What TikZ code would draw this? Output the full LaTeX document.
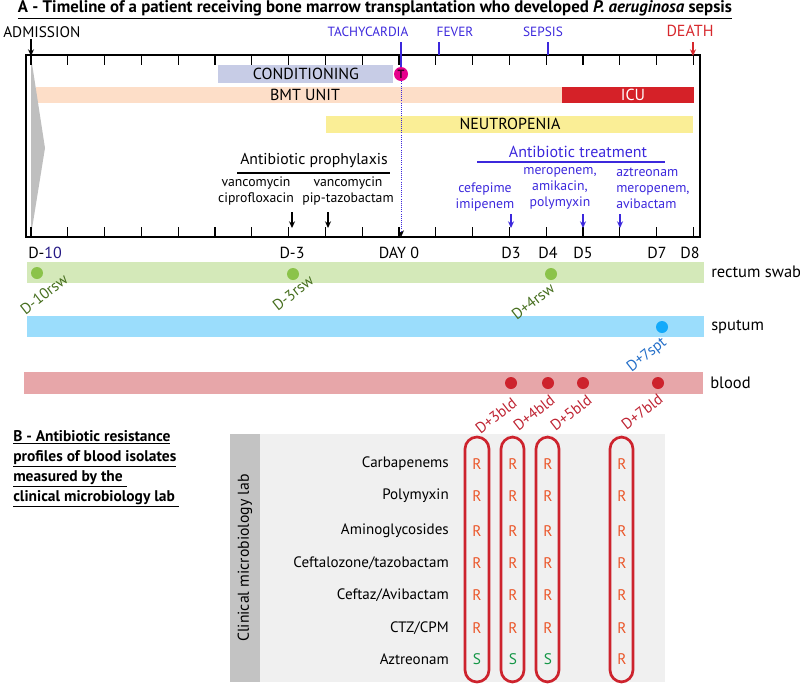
\documentclass[tikz,border=0pt]{standalone}
\usepackage{fontspec}
\setmainfont{PT Sans}
\usetikzlibrary{arrows.meta}
\definecolor{evblue}{RGB}{60,40,220}
\definecolor{deathred}{RGB}{215,40,45}
\definecolor{condcol}{RGB}{199,204,230}
\definecolor{bmtcol}{RGB}{253,222,200}
\definecolor{icucol}{RGB}{213,33,40}
\definecolor{neutcol}{RGB}{250,238,150}
\definecolor{tachcol}{RGB}{230,0,140}
\definecolor{rswband}{RGB}{212,233,185}
\definecolor{sptband}{RGB}{155,221,252}
\definecolor{bldband}{RGB}{231,166,169}
\definecolor{rswdot}{RGB}{139,195,74}
\definecolor{rswtext}{RGB}{70,110,30}
\definecolor{sptdot}{RGB}{20,170,250}
\definecolor{spttext}{RGB}{35,110,200}
\definecolor{blddot}{RGB}{205,35,45}
\definecolor{bldtext}{RGB}{190,35,50}
\definecolor{rescol}{RGB}{235,85,40}
\definecolor{suscol}{RGB}{20,150,70}
\definecolor{panelcol}{RGB}{240,240,240}
\definecolor{stripcol}{RGB}{195,195,195}

\begin{document}
\begin{tikzpicture}[x=0.75pt, y=-0.75pt,
    txt/.style={font=\fontsize{12}{14}\selectfont, inner sep=0pt},
    small/.style={font=\fontsize{10.3}{12}\selectfont, inner sep=0pt, align=center},
    rowlab/.style={font=\fontsize{11.3}{13}\selectfont, inner sep=0pt, anchor=east},
    arr/.style={-{Stealth[length=5pt,width=4.5pt]}, line width=0.8pt},
    tick/.style={line width=0.8pt},
    sample/.style={font=\fontsize{11.5}{13}\selectfont, inner sep=0pt, rotate=38},
    res/.style={font=\fontsize{11.5}{13}\selectfont, inner sep=0pt, text=rescol},
    sus/.style={font=\fontsize{11.5}{13}\selectfont, inner sep=0pt, text=suscol},
    isolate/.style={draw=blddot, line width=2pt, rounded corners=9pt}]
\useasboundingbox (0,0) rectangle (800,686);

% Title
\node[font=\fontsize{12.6}{14}\selectfont\bfseries, inner sep=0pt] (title) at (375,10)
  {\underline{A - Timeline of a patient receiving bone marrow transplantation who developed \textit{P. aeruginosa} sepsis}};

% Bars inside the timeline
\fill[condcol] (218,65) rectangle (393,83);
\node[txt] (cond) at (306,74) {CONDITIONING};
\fill[bmtcol] (36,87) rectangle (562,103);
\node[txt] (bmt) at (305,95) {BMT UNIT};
\fill[icucol] (562,87) rectangle (694,103);
\node[txt, text=white] (icu) at (633,95) {ICU};
\fill[neutcol] (326,116) rectangle (693,133);
\node[txt] (neut) at (510,124) {NEUTROPENIA};
\fill[black!25] (31,57) -- (45,148) -- (31,235) -- cycle;

% Timeline box and ticks
\draw[line width=1.3pt] (26,55) rectangle (700,237);
\foreach \d in {-10,...,8} {
  \draw[tick] ({399+36.8*\d},55) -- ({399+36.8*\d},65);
  \draw[tick] ({399+36.8*\d},237) -- ({399+36.8*\d},227);
}

% Events above the box
\node[font=\fontsize{11.5}{13}\selectfont, inner sep=0pt, anchor=west] (adm) at (3,32) {ADMISSION};
\coordinate (admtop) at (31,39);
\coordinate (admtip) at (31,56);
\draw[arr] (admtop) -- (admtip);
\node[font=\fontsize{10}{12}\selectfont, inner sep=0pt, text=evblue] (tach) at (368,32) {TACHYCARDIA};
\node[font=\fontsize{10}{12}\selectfont, inner sep=0pt, text=evblue] (fever) at (455,32) {FEVER};
\node[font=\fontsize{10}{12}\selectfont, inner sep=0pt, text=evblue] (sepsis) at (543,32) {SEPSIS};
\coordinate (tachtop) at (401,42);
\coordinate (fevtop) at (439,42);
\coordinate (fevbot) at (439,55);
\coordinate (sepstop) at (548,42);
\coordinate (sepsbot) at (548,55);
\draw[evblue, line width=0.8pt] (fevtop) -- (fevbot);
\draw[evblue, line width=0.8pt] (sepstop) -- (sepsbot);
\node[circle, fill=tachcol, inner sep=0pt, minimum size=10.5pt,
  font=\fontsize{9}{9}\selectfont\bfseries, text=black!70!tachcol] (tcirc) at (401,74) {T};
\draw[evblue, line width=0.8pt] (tachtop) -- (tcirc.north);
\coordinate (d0tip) at (401,237);
\draw[densely dotted, evblue, line width=0.6pt, -{Stealth[length=5pt,width=4.5pt,black]}] (tcirc.south) -- (d0tip);
\node[font=\fontsize{12}{12}\selectfont, inner sep=0pt, text=deathred] (death) at (690,31) {DEATH};
\coordinate (deathtop) at (693,42);
\coordinate (deathtip) at (693,56);
\draw[arr, deathred] (deathtop) -- (deathtip);

% Antibiotic prophylaxis
\node[font=\fontsize{11.8}{13}\selectfont, inner sep=0pt] (proph) at (314,161) {Antibiotic prophylaxis};
\coordinate (prophl) at (237,173);
\coordinate (prophr) at (390,173);
\draw[line width=0.8pt] (prophl) -- (prophr);
\node[small] (vancip) at (256,191) {vancomycin\\ciprofloxacin};
\node[small] (vanpip) at (348,191) {vancomycin\\pip-tazobactam};
\coordinate (pa1) at (292,212);
\coordinate (pa1t) at (292,228);
\coordinate (pa2) at (328,212);
\coordinate (pa2t) at (328,228);
\draw[arr] (pa1) -- (pa1t);
\draw[arr] (pa2) -- (pa2t);

% Antibiotic treatment
\node[font=\fontsize{12}{13}\selectfont, inner sep=0pt, text=evblue] (treat) at (578,152) {Antibiotic treatment};
\coordinate (treatl) at (477,162);
\coordinate (treatr) at (665,162);
\draw[evblue, line width=0.8pt] (treatl) -- (treatr);
\node[small, text=evblue] (cefimi) at (485,197) {cefepime\\imipenem};
\node[small, text=evblue] (meramk) at (560,188) {meropenem,\\amikacin,\\polymyxin};
\node[small, text=evblue, align=left, anchor=west] (aztmer) at (616,188) {aztreonam\\meropenem,\\avibactam};
\coordinate (ta1) at (511,214);
\coordinate (ta1t) at (511,228);
\coordinate (ta2) at (583,214);
\coordinate (ta2t) at (583,228);
\coordinate (ta3) at (620,214);
\coordinate (ta3t) at (620,228);
\draw[arr, evblue] (ta1) -- (ta1t);
\draw[arr, evblue] (ta2) -- (ta2t);
\draw[arr, evblue] (ta3) -- (ta3t);

% Day labels
\node[txt, anchor=west] (dm10) at (28,253) {D-\textcolor{evblue!60!black}{10}};
\node[txt] (dm3) at (292,253) {D-3};
\node[txt] (d0) at (399,253) {DAY 0};
\node[txt] (d3) at (511,253) {D3};
\node[txt] (d4) at (548,253) {D4};
\node[txt] (d5) at (583,253) {D5};
\node[txt] (d7) at (657,253) {D7};
\node[txt] (d8) at (690,253) {D8};

% Sample bands
\fill[rswband] (27,262) rectangle (704,283);
\fill[sptband] (27,316) rectangle (704,337);
\fill[bldband] (24,372) rectangle (703,394);
\node[font=\fontsize{12.4}{14}\selectfont, inner sep=0pt, anchor=west] (rsw) at (711,272) {rectum swab};
\node[font=\fontsize{12.4}{14}\selectfont, inner sep=0pt, anchor=west] (spt) at (711,327) {sputum};
\node[font=\fontsize{12.4}{14}\selectfont, inner sep=0pt, anchor=west] (bld) at (710,383) {blood};

% Sample dots and labels
\fill[rswdot] (37,273) circle (6);
\fill[rswdot] (293,274) circle (6);
\fill[rswdot] (551,274) circle (6);
\node[sample, text=rswtext] (rsw1) at (44,294) {D-10rsw};
\node[sample, text=rswtext] (rsw2) at (293,293) {D-3rsw};
\node[sample, text=rswtext] (rsw3) at (533,301) {D+4rsw};
\fill[sptdot] (662,327) circle (6);
\node[sample, text=spttext] (spt1) at (647,355) {D+7spt};
\foreach \x in {511,548,583,658}
  \fill[blddot] (\x,383) circle (6);
\node[sample, text=bldtext] (bld3) at (496,416) {D+3bld};
\node[sample, text=bldtext] (bld4) at (534,413) {D+4bld};
\node[sample, text=bldtext] (bld5) at (571,413) {D+5bld};
\node[sample, text=bldtext] (bld7) at (642,412) {D+7bld};

% Section B
\node[font=\fontsize{11.6}{15}\selectfont\bfseries, inner sep=0pt, align=left, anchor=north west] (secb) at (13,430)
  {\underline{B - Antibiotic resistance}\\\underline{profiles of blood isolates}\\\underline{measured by the\ }\\\underline{clinical microbiology lab\ }};

% Resistance table
\fill[panelcol] (260,434) rectangle (665,682);
\fill[stripcol] (230,434) rectangle (260,682);
\node[font=\fontsize{11.8}{13}\selectfont, inner sep=0pt, rotate=90] (lab) at (245,558) {Clinical microbiology lab};
\node[rowlab] (carb) at (449,464) {Carbapenems};
\node[rowlab] (poly) at (449,496) {Polymyxin};
\node[rowlab] (amino) at (449,531) {Aminoglycosides};
\node[rowlab] (cefto) at (449,563) {Ceftalozone/tazobactam};
\node[rowlab] (cefav) at (449,595) {Ceftaz/Avibactam};
\node[rowlab] (ctz) at (449,628) {CTZ/CPM};
\node[rowlab] (aztr) at (449,659) {Aztreonam};
\foreach \y [count=\i] in {464,496,531,563,595,628}
  \foreach \x [count=\j] in {477,513,548,622}
    \node[res] (r\i-\j) at (\x,\y) {R};
\node[sus] (r7-1) at (477,659) {S};
\node[sus] (r7-2) at (513,659) {S};
\node[sus] (r7-3) at (548,659) {S};
\node[res] (r7-4) at (622,659) {R};
\draw[isolate] (465,437) rectangle (489,682);
\draw[isolate] (501,437) rectangle (524,682);
\draw[isolate] (536,437) rectangle (559,682);
\draw[isolate] (610,437) rectangle (633,682);
\end{tikzpicture}
\end{document}
